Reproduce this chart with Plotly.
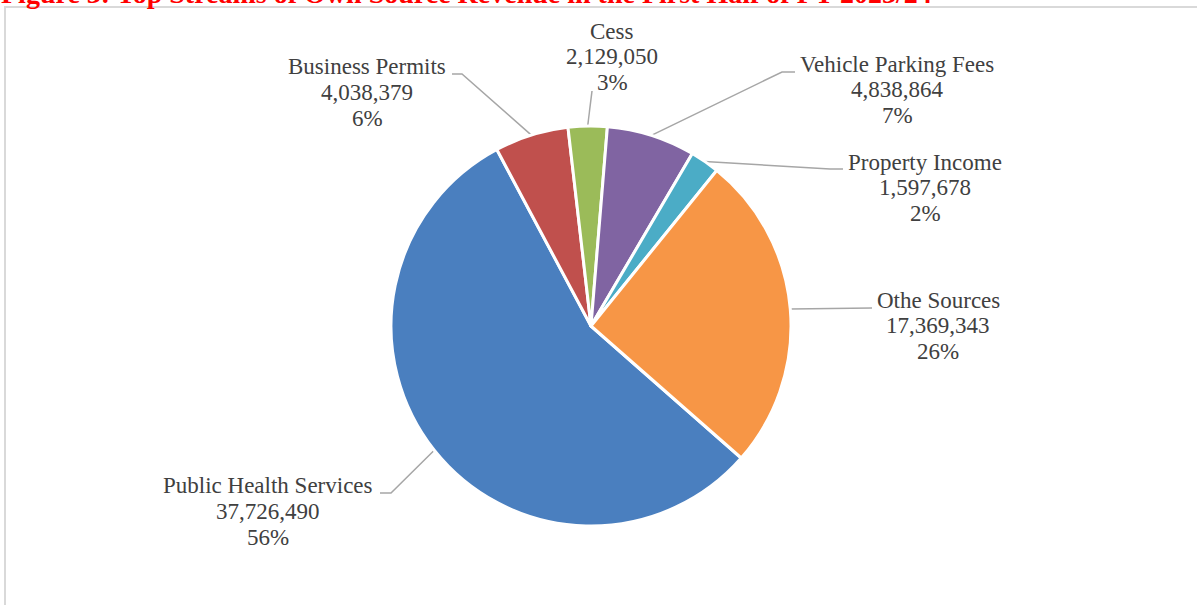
import math
import plotly.graph_objects as go

W, H = 1197, 605

# Own source revenue streams (KES), in the order the slices are drawn
categories = [
    "Public Health Services",
    "Business Permits",
    "Cess",
    "Vehicle Parking Fees",
    "Property Income",
    "Othe Sources",
]
values = [37726490, 4038379, 2129050, 4838864, 1597678, 17369343]
colors = ["#4A7FBF", "#C0504D", "#9BBB59", "#8064A2", "#4BACC6", "#F79646"]

title_text = "Figure 3: Top Streams of Own Source Revenue in the First Half of FY 2023/24"

total = sum(values)
percents = [round(v / total * 100) for v in values]

# Pie geometry in page pixels
CX, CY, R = 591, 326, 200
ROTATION = 131.3

LABEL_FONT = dict(family="Liberation Serif", size=23, color="#404040")
LINE_GAP = 25.8
LEADER = dict(color="#A6A6A6", width=1.5)

# Label block placement: centre x, y of first line, leader knee points
label_layout = {
    "Public Health Services": (268, 486, [(380, 493), (391, 493)]),
    "Business Permits": (367, 66.5, [(452, 74), (462, 74)]),
    "Cess": (612, 31, [(592, 91)]),
    "Vehicle Parking Fees": (897, 64, [(795, 72), (782, 72)]),
    "Property Income": (925, 162, [(843, 169), (830, 169)]),
    "Othe Sources": (938, 300, [(872, 308)]),
}


def px(x):
    return x / W


def py(y):
    return 1 - y / H


fig = go.Figure(
    go.Pie(
        labels=categories,
        values=values,
        sort=False,
        direction="clockwise",
        rotation=ROTATION,
        marker=dict(colors=colors, line=dict(color="white", width=3)),
        textinfo="none",
        hoverinfo="label+value+percent",
        showlegend=False,
        domain=dict(x=[px(CX - R), px(CX + R)], y=[py(CY + R), py(CY - R)]),
    )
)

annotations = []
shapes = []

# Mid angle of each slice, measured clockwise from 12 o'clock
cum = 0.0
for name, val, pct in zip(categories, values, percents):
    mid = ROTATION + (cum + val / 2) / total * 360
    cum += val
    a = math.radians(mid)
    ex = CX + R * math.sin(a)
    ey = CY - R * math.cos(a)

    lx, ly, knees = label_layout[name]
    lines = [name, f"{val:,}", f"{pct}%"]
    for i, t in enumerate(lines):
        annotations.append(
            dict(
                x=px(lx), y=py(ly + i * LINE_GAP), xref="paper", yref="paper",
                text=t, showarrow=False, xanchor="center", yanchor="middle",
                font=LABEL_FONT, borderpad=0,
            )
        )

    pts = knees + [(ex, ey)]
    path = "M " + " L ".join(f"{px(x):.5f},{py(y):.5f}" for x, y in pts)
    shapes.append(dict(type="path", path=path, xref="paper", yref="paper",
                       line=LEADER, layer="below"))

# Chart frame
shapes.append(dict(type="rect", xref="paper", yref="paper",
                   x0=px(5), x1=px(1205), y0=py(7), y1=py(620),
                   line=dict(color="#D9D9D9", width=2), layer="below"))

# Figure caption sitting above the frame, its top running off the page
TITLE_SIZE = 28
annotations.append(
    dict(
        x=0, y=py(4 + 0.216 * TITLE_SIZE), xref="paper", yref="paper",
        text=f"<b>{title_text}</b>", showarrow=False,
        xanchor="left", yanchor="bottom", borderpad=0,
        font=dict(family="Liberation Serif", size=TITLE_SIZE, color="#FF0000"),
    )
)

fig.update_layout(
    width=W, height=H,
    margin=dict(l=0, r=0, t=0, b=0),
    paper_bgcolor="white",
    plot_bgcolor="white",
    annotations=annotations,
    shapes=shapes,
)

fig.write_html("out.html")
